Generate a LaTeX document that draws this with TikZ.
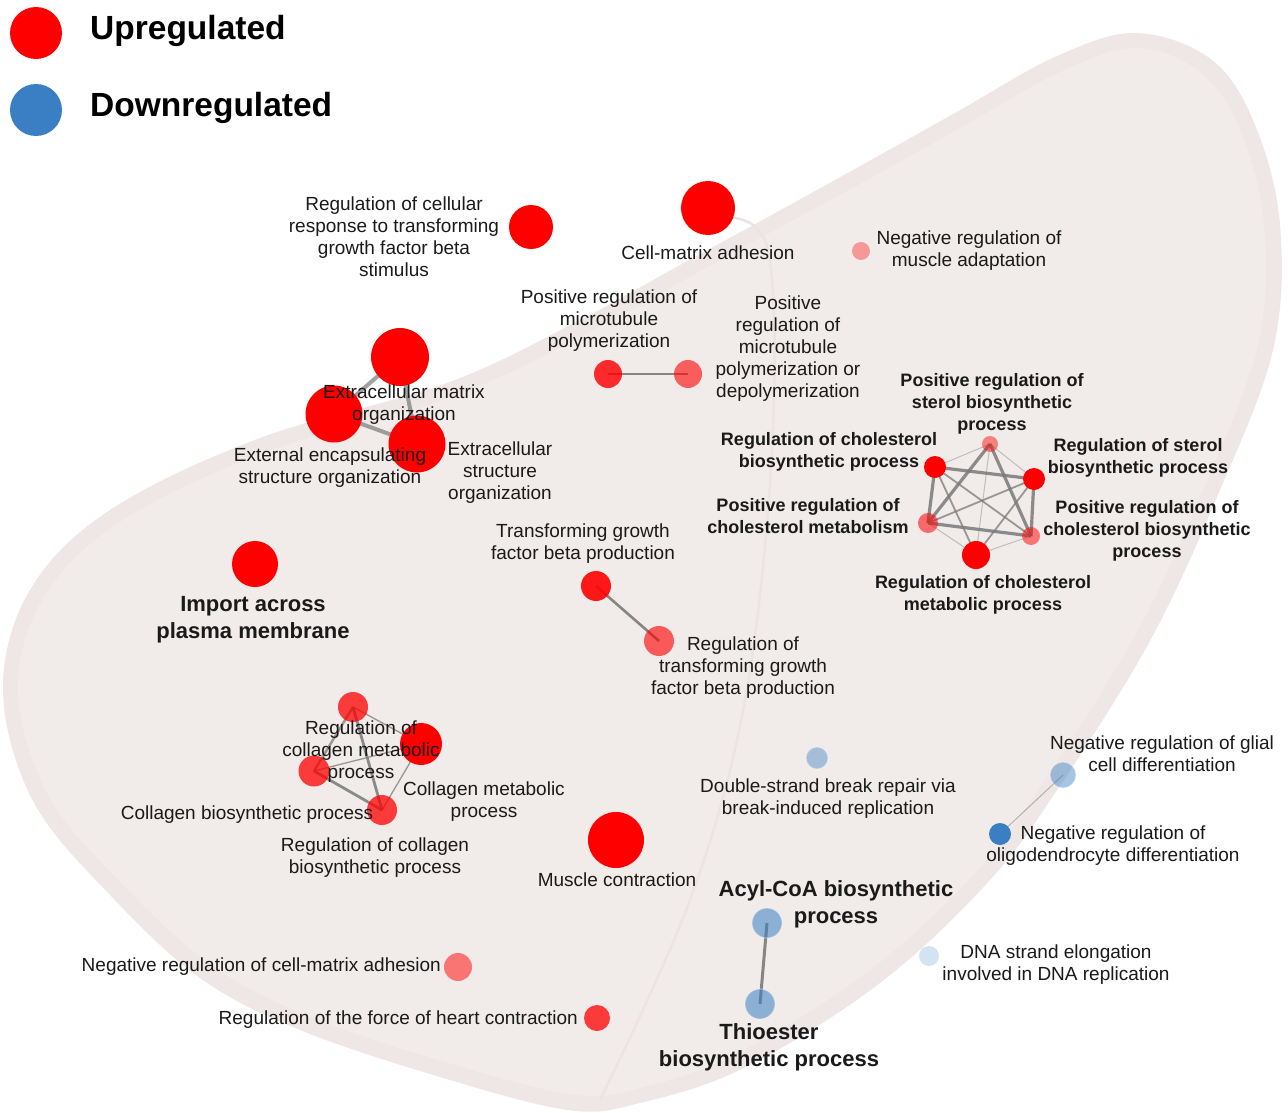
\documentclass[tikz,border=0pt]{standalone}
\usepackage{fontspec}
\setmainfont{Liberation Sans}
\usetikzlibrary{backgrounds}
\pgfdeclarelayer{edgelayer}
\pgfsetlayers{background,edgelayer,main}
\definecolor{upred}{HTML}{FF0000}
\definecolor{downblue}{HTML}{3A7FC4}
\definecolor{blobfill}{HTML}{F1EBE9}
\definecolor{blobrim}{HTML}{EEE7E5}
\definecolor{blobline}{HTML}{EBE4E2}
\definecolor{edgegray}{HTML}{7A7A7A}
\definecolor{txt}{HTML}{1A1A1A}
\tikzset{
  gnode/.style={circle, inner sep=0pt, draw=none},
  ring/.style={draw=white, draw opacity=0.35, line width=1.2pt},
  lbl/.style={align=center, inner sep=0pt, text=txt, font=\fontsize{19}{22}\selectfont},
  blbl/.style={align=center, inner sep=0pt, text=txt, font=\fontsize{18}{22}\selectfont\bfseries},
  biglbl/.style={align=center, inner sep=0pt, text=txt, font=\fontsize{22}{27}\selectfont\bfseries},
  leglbl/.style={anchor=west, inner sep=0pt, text=black, font=\fontsize{33.5}{36}\selectfont\bfseries},
  ethick/.style={draw=edgegray, line width=3.2pt, opacity=0.85},
  emed/.style={draw=edgegray, line width=1.8pt, opacity=0.75},
  ethin/.style={draw=edgegray, line width=1pt, opacity=0.4},
  eecm/.style={draw=edgegray, line width=4pt, opacity=0.7},
  epair/.style={draw=edgegray, line width=2.6pt, opacity=0.9},
}
\newcommand\mygn[5]{\node[gnode, minimum size=#3*2, fill=#4, fill opacity=#5] (#1) at (#2) {};}
\newcommand\myblobpath{plot[smooth cycle, tension=0.6] coordinates {
  (1136,33) (1212,60) (1255,125) (1280,225) (1273,350) (1217,497) (1151,639)
  (1063,781) (990,880) (880,983) (746,1067) (640,1103) (568,1110) (440,1077)
  (300,1030) (200,978) (110,895) (33,801) (3,690) (30,590) (110,510) (260,438)
  (447,383) (580,320) (680,265) (757,223) (853,170) (955,113) (1055,57)}}
\begin{document}
\begin{tikzpicture}[x=1pt, y=-1pt]
\useasboundingbox (0,0) rectangle (1288,1113);
\begin{pgfonlayer}{background}
  \fill[blobrim] \myblobpath;
  \begin{scope}
    \clip \myblobpath;
    \fill[blobfill] plot[smooth cycle, tension=0.6] coordinates {
  (1136,48) (1200,72) (1240,130) (1264,225) (1258,345) (1203,490) (1138,630)
  (1050,772) (978,870) (870,970) (740,1052) (640,1088) (570,1094) (445,1062)
  (308,1016) (210,964) (122,884) (48,795) (18,690) (44,597) (120,522) (266,452)
  (452,397) (586,334) (686,279) (762,237) (860,184) (962,127) (1060,72)};
  \end{scope}
  \draw[blobline, line width=2.5pt] plot[smooth, tension=0.6] coordinates {(722,218) (768,250) (772,450) (745,700) (690,900) (600,1100)};
\end{pgfonlayer}
% legend
\node[gnode, minimum size=52, fill=upred] (legup) at (36,33) {};
\node[gnode, minimum size=52, fill=downblue] (legdown) at (36,110) {};
\node[leglbl] (legupt) at (90,31) {Upregulated};
\node[leglbl] (legdownt) at (90,108) {Downregulated};
% nodes
\mygn{tgfs}{531,227}{22}{upred}{1}
\mygn{cma}{708,208}{27}{upred}{1}
\mygn{nma}{861,251}{9}{upred}{0.35}
\mygn{mtp}{608,374}{14}{upred}{0.82}
\mygn{mtpd}{688,374}{14}{upred}{0.6}
\mygn{ecm}{400,357}{29}{upred}{1}
\mygn{eeso}{334,414}{28.5}{upred}{1}
\mygn{eso}{417,444}{28.5}{upred}{1}
\mygn{ipm}{255,564}{23}{upred}{1}
\mygn{tgfp}{596,586}{15}{upred}{0.9}
\mygn{rtgfp}{659,641}{15}{upred}{0.62}
\mygn{prsb}{990,444}{8}{upred}{0.45}
\mygn{rcb}{935,467}{11}{upred}{1}
\mygn{rsb}{1034,479}{11}{upred}{1}
\mygn{prcm}{928,523}{10}{upred}{0.55}
\mygn{prcbp}{1031,536}{9}{upred}{0.5}
\mygn{rcmp}{976,555}{14}{upred}{1}
\mygn{colt}{353,707}{15}{upred}{0.75}
\mygn{colr}{421,744}{21}{upred}{1}
\mygn{coll}{314,771}{15.5}{upred}{0.75}
\mygn{colb}{382,810}{15}{upred}{0.75}
\mygn{mc}{616,840}{28}{upred}{1}
\mygn{nrcma}{458,967}{14}{upred}{0.5}
\mygn{rfhc}{597,1018}{13}{upred}{0.75}
\mygn{oligo}{1000,834}{11}{downblue}{1}
\node[gnode, ring, minimum size=22, fill=downblue, fill opacity=0.42] (dsb) at (817,758) {};
\node[gnode, ring, minimum size=26, fill=downblue, fill opacity=0.45] (glial) at (1063,775) {};
\node[gnode, ring, minimum size=30, fill=downblue, fill opacity=0.55] (acyl) at (767,923) {};
\node[gnode, ring, minimum size=30, fill=downblue, fill opacity=0.55] (thio) at (760,1004) {};
\node[gnode, minimum size=20, fill=downblue, fill opacity=0.22] (dnae) at (929,956) {};
% edges
\begin{pgfonlayer}{edgelayer}
  \draw[eecm] (ecm.center) -- (eeso.center);
  \draw[eecm] (ecm.center) -- (eso.center);
  \draw[eecm] (eeso.center) -- (eso.center);
  \draw[epair, line width=2pt] (mtp.center) -- (mtpd.center);
  \draw[epair] (tgfp.center) -- (rtgfp.center);
  \draw[epair, line width=3pt] (acyl.center) -- (thio.center);
  \draw[ethin, opacity=0.5] (glial.center) -- (oligo.center);
  % cholesterol
  \draw[ethick] (rcb.center) -- (rsb.center);
  \draw[ethick] (rcb.center) -- (prcm.center);
  \draw[ethick] (prsb.center) -- (prcm.center);
  \draw[ethick] (prsb.center) -- (prcbp.center);
  \draw[ethick] (rsb.center) -- (prcbp.center);
  \draw[ethick] (prcm.center) -- (prcbp.center);
  \draw[emed] (rcb.center) -- (rcmp.center);
  \draw[emed] (rcb.center) -- (prcbp.center);
  \draw[emed] (rsb.center) -- (prcm.center);
  \draw[emed] (rsb.center) -- (rcmp.center);
  \draw[ethin] (prsb.center) -- (rcb.center);
  \draw[ethin] (prsb.center) -- (rsb.center);
  \draw[ethin] (prsb.center) -- (rcmp.center);
  \draw[ethin] (prcm.center) -- (rcmp.center);
  \draw[ethin] (prcbp.center) -- (rcmp.center);
  % collagen
  \draw[emed, line width=2.4pt] (colt.center) -- (coll.center);
  \draw[ethick, line width=2.8pt] (colt.center) -- (colb.center);
  \draw[emed, line width=1.3pt] (colt.center) -- (colr.center);
  \draw[emed, line width=1.3pt] (coll.center) -- (colr.center);
  \draw[ethick, line width=2.8pt] (coll.center) -- (colb.center);
  \draw[emed, line width=1.3pt] (colr.center) -- (colb.center);
\end{pgfonlayer}
% labels
\node[lbl] (tgfsl) at (394,237) {Regulation of cellular\\response to transforming\\growth factor beta\\stimulus};
\node[lbl] (cmal) at (708,253) {Cell-matrix adhesion};
\node[lbl] (nmal) at (969,251) {Negative regulation of\\muscle adaptation};
\node[lbl] (mtpl) at (609,321) {Positive regulation of\\microtubule\\polymerization};
\node[lbl] (mtpdl) at (788,349) {Positive\\regulation of\\microtubule\\polymerization or\\depolymerization};
\node[lbl] (ecml) at (404,405) {Extracellular matrix\\organization};
\node[lbl] (eesol) at (330,468) {External encapsulating\\structure organization};
\node[lbl] (esol) at (500,473) {Extracellular\\structure\\organization};
\node[biglbl] (ipml) at (253,620) {Import across\\plasma membrane};
\node[lbl] (tgfpl) at (583,544) {Transforming growth\\factor beta production};
\node[lbl] (rtgfpl) at (743,668) {Regulation of\\transforming growth\\factor beta production};
\node[blbl] (prsbl) at (992,404) {Positive regulation of\\sterol biosynthetic\\process};
\node[blbl] (rcbl) at (829,452) {Regulation of cholesterol\\biosynthetic process};
\node[blbl] (rsbl) at (1138,458) {Regulation of sterol\\biosynthetic process};
\node[blbl] (prcml) at (808,516) {Positive regulation of\\cholesterol metabolism};
\node[blbl] (prcbpl) at (1147,531) {Positive regulation of\\cholesterol biosynthetic\\process};
\node[blbl] (rcmpl) at (983,595) {Regulation of cholesterol\\metabolic process};
\node[lbl] (coltl) at (361,752) {Regulation of\\collagen metabolic\\process};
\node[lbl] (colll) at (247,815) {Collagen biosynthetic process};
\node[lbl] (colrl) at (484,802) {Collagen metabolic\\process};
\node[lbl] (colbl) at (375,858) {Regulation of collagen\\biosynthetic process};
\node[lbl] (mcl) at (617,880) {Muscle contraction};
\node[lbl, anchor=east] (nrcmal) at (441,967) {Negative regulation of cell-matrix adhesion};
\node[lbl, anchor=east] (rfhcl) at (578,1020) {Regulation of the force of heart contraction};
\node[lbl] (dsbl) at (828,799) {Double-strand break repair via\\break-induced replication};
\node[lbl] (glial) at (1162,754) {Negative regulation of glial\\cell differentiation};
\node[lbl] (oligol) at (1113,846) {Negative regulation of\\oligodendrocyte differentiation};
\node[biglbl] (acyll) at (836,904) {Acyl-CoA biosynthetic\\process};
\node[biglbl] (thiol) at (769,1047) {Thioester\\biosynthetic process};
\node[lbl] (dnael) at (1056,965) {DNA strand elongation\\involved in DNA replication};
\end{tikzpicture}
\end{document}
